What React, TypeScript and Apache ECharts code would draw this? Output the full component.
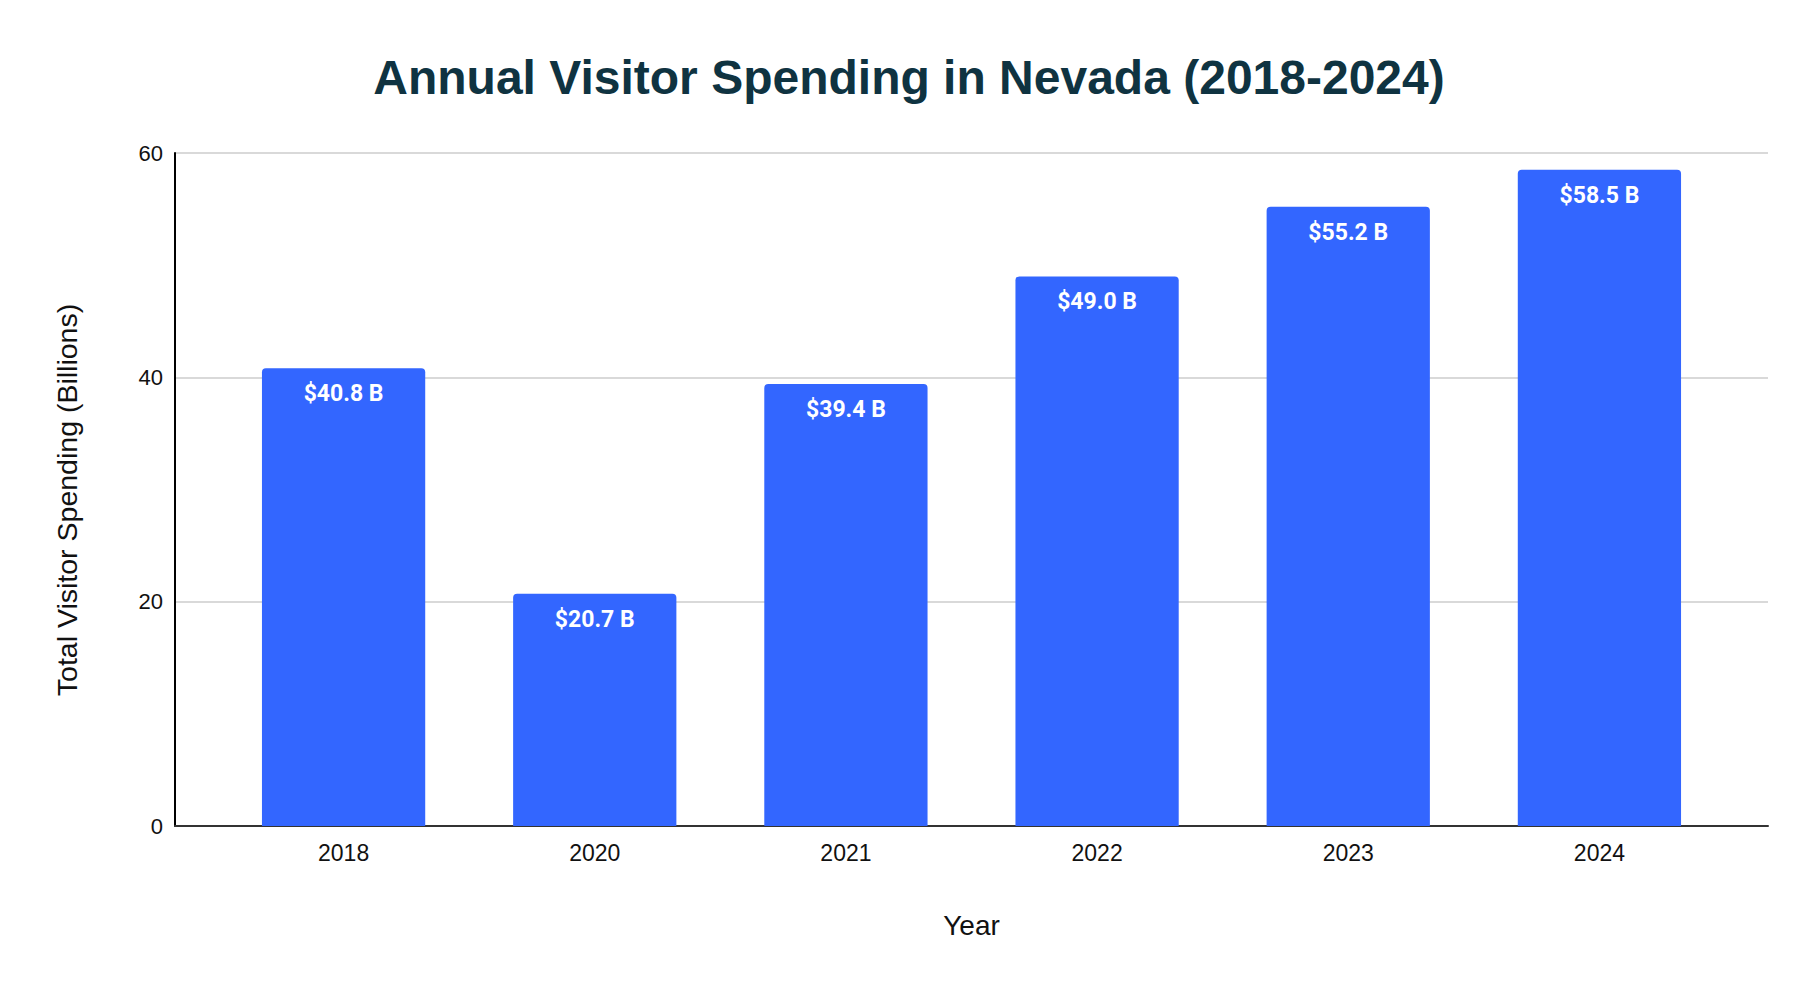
import React, { useEffect, useRef } from "react";
import * as echarts from "echarts";

const years = ["2018", "2020", "2021", "2022", "2023", "2024"];
const spending = [40.8, 20.7, 39.4, 49.0, 55.2, 58.5];
const yTicks = { min: 0, max: 60, interval: 20 };
const titleText = "Annual Visitor Spending in Nevada (2018-2024)";
const xName = "Year";
const yName = "Total Visitor Spending (Billions)";

export default function App() {
  const ref = useRef<HTMLDivElement>(null);
  useEffect(() => {
    if (!ref.current) return;
    const chart = echarts.init(ref.current, undefined, { renderer: "svg" });
    const axisFont = "'Liberation Sans', Arial, sans-serif";
    chart.setOption({
      animation: false,
      backgroundColor: "#ffffff",
      title: {
        text: titleText,
        left: "center",
        top: 48,
        textStyle: {
          fontFamily: axisFont,
          fontWeight: "bold",
          fontSize: 48,
          color: "#0f3341",
        },
      },
      grid: [
        { left: 175, right: 50, top: 153, bottom: 164 },
        { left: 218, right: 93, top: 153, bottom: 164 },
      ],
      xAxis: [
        {
          gridIndex: 0,
          type: "category",
          data: [""],
          axisLine: { show: true, lineStyle: { color: "#333333", width: 2 } },
          axisTick: { show: false },
          axisLabel: { show: false },
          name: xName,
          nameLocation: "middle",
          nameGap: 85,
          nameTextStyle: { fontFamily: axisFont, fontSize: 28, color: "#111111" },
        },
        {
          gridIndex: 1,
          type: "category",
          data: years,
          axisLine: { show: false },
          axisTick: { show: false },
          axisLabel: { fontFamily: axisFont, fontSize: 23, color: "#111111", margin: 15 },
        },
      ],
      yAxis: [
        {
          gridIndex: 0,
          type: "value",
          min: yTicks.min,
          max: yTicks.max,
          interval: yTicks.interval,
          axisLine: { show: true, lineStyle: { color: "#000000", width: 2 } },
          axisTick: { show: false },
          axisLabel: { fontFamily: axisFont, fontSize: 22, color: "#111111", margin: 12 },
          splitLine: { show: true, lineStyle: { color: "#cccccc", width: 1.5 } },
          name: yName,
          nameLocation: "middle",
          nameGap: 94,
          nameTextStyle: {
            fontFamily: axisFont,
            fontSize: 28.5,
            color: "#111111",
            padding: [0, 21, 0, 0],
          },
        },
        {
          gridIndex: 1,
          type: "value",
          min: yTicks.min,
          max: yTicks.max,
          interval: yTicks.interval,
          show: false,
          splitLine: { show: false },
        },
      ],
      series: [
        {
          type: "bar",
          xAxisIndex: 1,
          yAxisIndex: 1,
          data: spending,
          barWidth: "65%",
          itemStyle: { color: "#3366ff", borderRadius: [4, 4, 0, 0] },
          label: {
            show: true,
            position: "insideTop",
            distance: 14,
            formatter: (p: any) => "$" + Number(p.value).toFixed(1) + " B",
            fontFamily: "Roboto, sans-serif",
            fontWeight: "bold",
            fontSize: 23,
            color: "#ffffff",
          },
        },
      ],
    });
    return () => chart.dispose();
  }, []);
  return (
    <div
      ref={ref}
      style={{ position: "absolute", left: 0, top: 0, width: 1818, height: 990 }}
    />
  );
}
